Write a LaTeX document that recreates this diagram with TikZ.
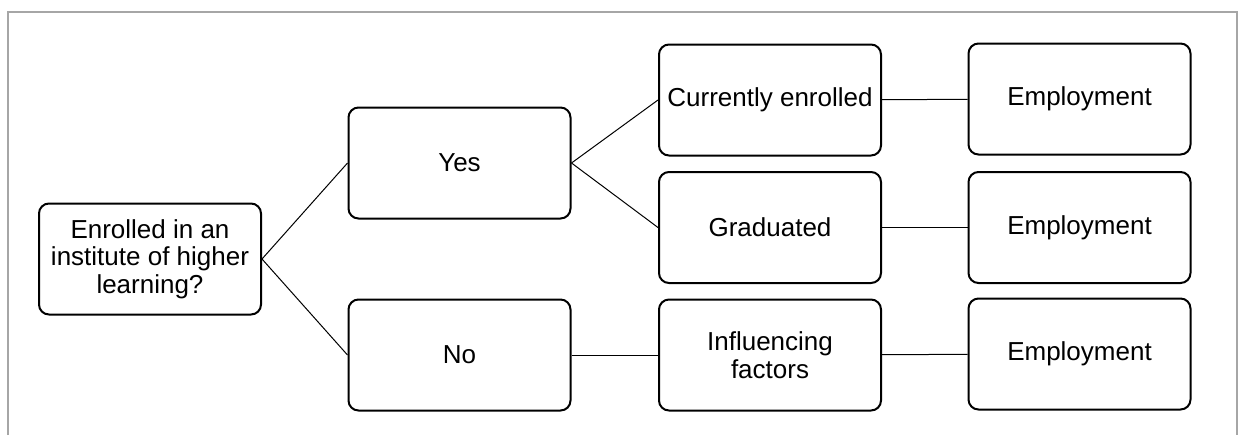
\documentclass[tikz,border=0pt]{standalone}
\usepackage{fontspec}
\setmainfont{Liberation Sans}
\usepackage{tikz}

\begin{document}
\begin{tikzpicture}[x=0.5pt,y=-0.5pt]
		\useasboundingbox (0,0) rectangle (1240,435);
		\draw [line width=0.75pt, color=black!35] (8,435) -- (8,12) -- (1237,12) -- (1237,435);
		
		\begin{scope}[every node/.style={rectangle,rounded corners=5pt,draw,line width=1pt,
				minimum width=111pt,minimum height=55.5pt,align=center,inner sep=2pt,
				font=\fontsize{13}{13.75}\selectfont}]
			\node (Q) at (150,259) {Enrolled in an\\institute of higher\\learning?};
			\node (Yes) at (459.5,163) {Yes};
			\node (No) at (459.5,355) {No};
			\node (Cur) at (770,100) {Currently enrolled};
			\node (Grad) at (770,227.5) {Graduated};
			\node (Inf) at (770,355) {Influencing\\factors};
			\node (EmpA) at (1079.5,99) {Employment};
			\node (EmpB) at (1079.5,227.5) {Employment};
			\node (EmpC) at (1079.5,354) {Employment};
		\end{scope}
		
		\begin{scope}[every edge/.style={draw=black,line width=0.5pt}]
			\path [-] (Q.east) edge (Yes.west);
			\path [-] (Q.east) edge (No.west);
			\path [-] (Yes.east) edge (Cur.west);
			\path [-] (Yes.east) edge (Grad.west);
			\path [-] (No) edge (Inf);
			\path [-] (Cur) edge (EmpA);
			\path [-] (Grad) edge (EmpB);
			\path [-] (Inf) edge (EmpC);
		\end{scope}
\end{tikzpicture}
\end{document}
